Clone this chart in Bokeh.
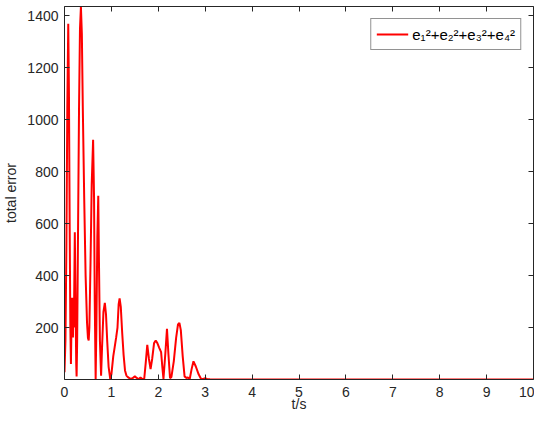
from bokeh.plotting import figure
from bokeh.models import LinearAxis, FixedTicker, Range1d
from bokeh.embed import file_html
from bokeh.resources import INLINE

# time (s) and total error values
t = [0.00, 0.02, 0.04, 0.06, 0.08, 0.095, 0.11, 0.125, 0.137, 0.148, 0.158, 0.168,
     0.18, 0.19, 0.198, 0.208, 0.22, 0.235, 0.25, 0.258, 0.27, 0.29, 0.31, 0.33,
     0.35, 0.37, 0.39, 0.42, 0.45, 0.48, 0.50, 0.516, 0.53, 0.555, 0.58, 0.61,
     0.63, 0.645, 0.664, 0.68, 0.70, 0.72, 0.735, 0.755, 0.78, 0.80, 0.83, 0.86,
     0.885, 0.91, 0.94, 0.975, 1.00, 1.04, 1.07, 1.10, 1.13, 1.155, 1.175, 1.20,
     1.23, 1.26, 1.29, 1.32, 1.36, 1.40, 1.45, 1.50, 1.54, 1.58, 1.62, 1.66,
     1.70, 1.73, 1.765, 1.80, 1.835, 1.87, 1.91, 1.945, 1.98, 2.02, 2.06, 2.085,
     2.11, 2.15, 2.185, 2.215, 2.25, 2.28, 2.33, 2.38, 2.42, 2.45, 2.48, 2.52,
     2.56, 2.60, 2.63, 2.67, 2.71, 2.75, 2.80, 2.86, 2.91, 2.96, 3.00, 3.04,
     3.10, 3.5, 4.0, 5.0, 6.0, 7.0, 8.0, 9.0, 10.0]
err = [28, 150, 500, 1050, 1370, 1100, 600, 200, 60, 200, 315, 220,
       162, 315, 200, 350, 567, 300, 60, 12, 150, 600, 1050, 1350,
       1435, 1330, 1050, 700, 400, 220, 160, 150, 200, 450, 750, 923,
       700, 300, 2, 200, 550, 707, 450, 150, 15, 120, 260, 295,
       250, 150, 50, 2, 20, 90, 125, 160, 200, 290, 312, 280,
       180, 95, 35, 15, 8, 3, 5, 12, 6, 1, 8, 2,
       3, 60, 133, 80, 40, 80, 140, 150, 140, 122, 105, 50,
       2, 100, 195, 100, 5, 10, 70, 160, 212, 218, 190, 90,
       12, 6, 8, 2, 40, 70, 50, 20, 3, 2, 5, 1,
       0.5, 0.3, 0.2, 0.1, 0.1, 0.1, 0.1, 0.1, 0.1]

x_ticks = [0, 1, 2, 3, 4, 5, 6, 7, 8, 9, 10]
y_ticks = [200, 400, 600, 800, 1000, 1200, 1400]
legend_text = "e\u2081\u00b2+e\u2082\u00b2+e\u2083\u00b2+e\u2084\u00b2"

AX = "#262626"
FONT = "Liberation Sans"

p = figure(width=534, height=414, output_backend="svg", toolbar_location=None,
           x_range=Range1d(0, 10), y_range=Range1d(0, 1436),
           min_border_left=62, min_border_right=1, min_border_top=6,
           min_border_bottom=34, background_fill_color="white",
           border_fill_color="white")
p.outline_line_color = None
p.xgrid.visible = False
p.ygrid.visible = False

p.line(t, err, line_color="#FF0000", line_width=2, legend_label=legend_text)

def style(ax, ticks, show_labels):
    ax.ticker = FixedTicker(ticks=ticks)
    ax.axis_line_color = AX
    ax.axis_line_width = 1
    ax.major_tick_line_color = AX
    ax.major_tick_in = 5
    ax.major_tick_out = 0
    ax.minor_tick_line_color = None
    ax.major_label_text_font = FONT
    ax.major_label_text_color = AX
    ax.axis_label_text_font = FONT
    ax.axis_label_text_color = AX
    ax.axis_label_text_font_style = "normal"
    ax.major_label_text_font_size = "14px"
    ax.axis_label_text_font_size = "14px"
    if not show_labels:
        ax.major_label_overrides = {v: "" for v in ticks}
        ax.major_label_standoff = 0

xa = p.xaxis[0]
style(xa, x_ticks, True)
xa.axis_label = "t/s"
xa.major_label_standoff = 7
xa.axis_label_standoff = -4

ya = p.yaxis[0]
style(ya, y_ticks, True)
ya.axis_label = "total error"
ya.major_label_standoff = 6
ya.axis_label_standoff = 5

top = LinearAxis()
style(top, x_ticks, False)
p.add_layout(top, "above")
right = LinearAxis()
style(right, y_ticks, False)
p.add_layout(right, "right")

lg = p.legend[0]
lg.location = "top_right"
lg.margin = 12
lg.padding = 5
lg.spacing = 0
lg.glyph_width = 32
lg.label_standoff = 4
lg.label_text_font = FONT
lg.label_text_font_size = "15px"
lg.label_text_color = "black"
lg.border_line_color = AX
lg.border_line_width = 1
lg.background_fill_color = "white"
lg.background_fill_alpha = 1

open("out.html", "w").write(file_html(p, INLINE))
